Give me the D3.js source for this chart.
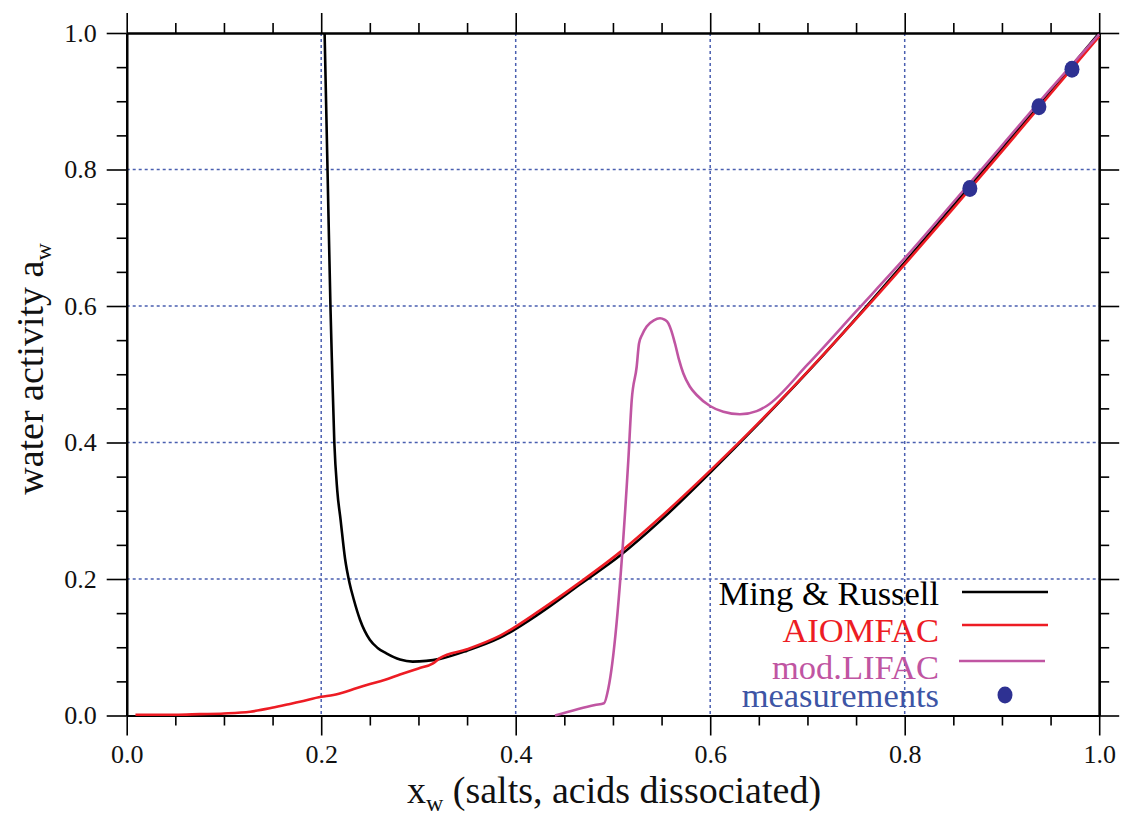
<!DOCTYPE html>
<html>
<head>
<meta charset="utf-8">
<script src="https://cdn.jsdelivr.net/npm/d3@7"></script>
<style>
  html, body { margin: 0; padding: 0; background: #fff; }
  svg { display: block; }
  text { font-family: "Liberation Serif", "Times New Roman", serif; }
</style>
</head>
<body>
<svg id="chart" width="1121" height="816"></svg>
<script>
// Water activity vs. water mole fraction (salts, acids dissociated)
const mingRussellX = [0.2035, 0.2065, 0.2095, 0.211, 0.2135, 0.2165, 0.220, 0.2245, 0.229, 0.2335, 0.240, 0.250, 0.258, 0.267, 0.281, 0.294, 0.308, 0.322, 0.350, 0.384, 0.425, 0.466, 0.507, 0.550, 0.600, 0.650, 0.700, 0.750, 0.800, 0.850, 0.900, 0.950, 1.000];
const mingRussellY = [1.000, 0.800, 0.600, 0.520, 0.400, 0.330, 0.286, 0.230, 0.195, 0.170, 0.140, 0.111, 0.099, 0.091, 0.082, 0.079, 0.080, 0.083, 0.095, 0.114, 0.150, 0.192, 0.234, 0.287, 0.356, 0.428, 0.503, 0.582, 0.664, 0.747, 0.831, 0.915, 1.000];

const aiomfacX = [0.009, 0.050, 0.0754, 0.100, 0.127, 0.147, 0.165, 0.178, 0.200, 0.2125, 0.230, 0.2468, 0.265, 0.281, 0.300, 0.315, 0.322, 0.350, 0.384, 0.425, 0.466, 0.507, 0.550, 0.600, 0.650, 0.700, 0.750, 0.800, 0.850, 0.900, 0.950, 1.000];
const aiomfacY = [0.001, 0.001, 0.002, 0.003, 0.0056, 0.0105, 0.016, 0.020, 0.0276, 0.030, 0.037, 0.0447, 0.052, 0.060, 0.069, 0.0765, 0.084, 0.097, 0.117, 0.154, 0.195, 0.239, 0.292, 0.3587, 0.429, 0.5035, 0.581, 0.661, 0.743, 0.8265, 0.911, 0.995];

const lifacX = [0.4404, 0.4815, 0.4908, 0.4953, 0.5158, 0.5193, 0.5244, 0.5268, 0.5300, 0.5347, 0.5420, 0.5484, 0.5530, 0.557, 0.5600, 0.5638, 0.5680, 0.5724, 0.5790, 0.5861, 0.5998, 0.6135, 0.6306, 0.6478, 0.658, 0.700, 0.750, 0.800, 0.850, 0.900, 0.950, 1.000];
const lifacY = [0.000, 0.0154, 0.018, 0.040, 0.374, 0.462, 0.511, 0.545, 0.558, 0.570, 0.579, 0.582, 0.580, 0.5747, 0.564, 0.545, 0.521, 0.501, 0.482, 0.4696, 0.4535, 0.445, 0.4413, 0.446, 0.4535, 0.514, 0.592, 0.670, 0.752, 0.835, 0.918, 0.998];

const measuredX = [0.867, 0.938, 0.972];
const measuredY = [0.772, 0.892, 0.947];

const majorTicks = [0.0, 0.2, 0.4, 0.6, 0.8, 1.0];
const minorTicks = [0.05, 0.1, 0.15, 0.25, 0.3, 0.35, 0.45, 0.5, 0.55, 0.65, 0.7, 0.75, 0.85, 0.9, 0.95];
const gridTicks = [0.2, 0.4, 0.6, 0.8];

const seriesNames = ["Ming & Russell", "AIOMFAC", "mod.LIFAC", "measurements"];
const seriesColors = ["#000000", "#ed1c24", "#c055a2", "#2e3192"];
const legendTextColors = ["#000000", "#ed1c24", "#c055a2", "#3d55a5"];

const svg = d3.select("#chart");
const plotLeft = 126.7, plotRight = 1099.2, plotTop = 33, plotBottom = 715.5;

const x = d3.scaleLinear().domain([0, 1]).range([plotLeft, plotRight]);
const y = d3.scaleLinear().domain([0, 1]).range([plotBottom, plotTop]);

// dotted grid
const grid = svg.append("g").attr("stroke", "#4a5fb0").attr("stroke-width", 1.5).attr("stroke-dasharray", "3,3");
grid.selectAll("line.gx").data(gridTicks).join("line").attr("class", "gx")
  .attr("x1", d => x(d)).attr("x2", d => x(d)).attr("y1", plotTop).attr("y2", plotBottom);
grid.selectAll("line.gy").data(gridTicks).join("line").attr("class", "gy")
  .attr("y1", d => y(d)).attr("y2", d => y(d)).attr("x1", plotLeft).attr("x2", plotRight);

// axes: major + minor ticks on all four sides, pointing outward
const fmt = d3.format(".1f");
function styleAxis(g) {
  g.selectAll("path").attr("stroke", "#000").attr("stroke-width", 2.2);
  g.selectAll("line").attr("stroke", "#000").attr("stroke-width", 1.6);
  g.selectAll("text").attr("font-size", 26).attr("fill", "#111");
}
svg.append("g").attr("transform", `translate(0,${plotBottom})`)
  .call(d3.axisBottom(x).tickValues(minorTicks).tickSize(10).tickSizeOuter(0).tickFormat(""))
  .call(styleAxis);
svg.append("g").attr("transform", `translate(0,${plotBottom})`)
  .call(d3.axisBottom(x).tickValues(majorTicks).tickSize(20).tickSizeOuter(0).tickPadding(9).tickFormat(fmt))
  .call(styleAxis);
svg.append("g").attr("transform", `translate(0,${plotTop})`)
  .call(d3.axisTop(x).tickValues(minorTicks).tickSize(10).tickSizeOuter(0).tickFormat(""))
  .call(styleAxis);
svg.append("g").attr("transform", `translate(0,${plotTop})`)
  .call(d3.axisTop(x).tickValues(majorTicks).tickSize(20).tickSizeOuter(0).tickFormat(""))
  .call(styleAxis);
svg.append("g").attr("transform", `translate(${plotLeft},0)`)
  .call(d3.axisLeft(y).tickValues(minorTicks).tickSize(10).tickSizeOuter(0).tickFormat(""))
  .call(styleAxis);
svg.append("g").attr("transform", `translate(${plotLeft},0)`)
  .call(d3.axisLeft(y).tickValues(majorTicks).tickSize(20).tickSizeOuter(0).tickPadding(10).tickFormat(fmt))
  .call(styleAxis);
svg.append("g").attr("transform", `translate(${plotRight},0)`)
  .call(d3.axisRight(y).tickValues(minorTicks).tickSize(10).tickSizeOuter(0).tickFormat(""))
  .call(styleAxis);
svg.append("g").attr("transform", `translate(${plotRight},0)`)
  .call(d3.axisRight(y).tickValues(majorTicks).tickSize(20).tickSizeOuter(0).tickFormat(""))
  .call(styleAxis);

// curves
const line = d3.line().x(d => x(d[0])).y(d => y(d[1])).curve(d3.curveMonotoneX);
const curves = [
  { xs: mingRussellX, ys: mingRussellY, color: seriesColors[0] },
  { xs: aiomfacX, ys: aiomfacY, color: seriesColors[1] },
  { xs: lifacX, ys: lifacY, color: seriesColors[2] }
];
svg.append("g").selectAll("path").data(curves).join("path")
  .attr("d", c => line(c.xs.map((v, i) => [v, c.ys[i]])))
  .attr("fill", "none").attr("stroke", c => c.color)
  .attr("stroke-width", 2.6).attr("stroke-linejoin", "round");

// measurements
svg.append("g").selectAll("ellipse").data(measuredX.map((v, i) => [v, measuredY[i]])).join("ellipse")
  .attr("cx", d => x(d[0])).attr("cy", d => y(d[1]))
  .attr("rx", 7.5).attr("ry", 8.5).attr("fill", seriesColors[3]);

// legend
const legendRows = [605, 641.5, 678.5, 707];
const legendMarkY = [592, 625, 661, 695];
const lg = svg.append("g");
seriesNames.forEach((name, i) => {
  lg.append("text").attr("x", 939).attr("y", legendRows[i])
    .attr("text-anchor", "end").attr("font-size", 34.5).attr("fill", legendTextColors[i]).text(name);
  if (i < 3) {
    const dx = i === 2 ? -3 : 0;
    lg.append("line").attr("x1", 962 + dx).attr("x2", 1048 + dx)
      .attr("y1", legendMarkY[i]).attr("y2", legendMarkY[i])
      .attr("stroke", seriesColors[i]).attr("stroke-width", 2.6);
  } else {
    lg.append("ellipse").attr("cx", 1005).attr("cy", legendMarkY[i])
      .attr("rx", 7.5).attr("ry", 8.5).attr("fill", seriesColors[i]);
  }
});

// axis titles
const yt = svg.append("text").attr("transform", "translate(43,369) rotate(-90)")
  .attr("text-anchor", "middle").attr("font-size", 38).attr("fill", "#111");
yt.append("tspan").text("water activity a");
yt.append("tspan").attr("font-size", 24).attr("dy", 8).text("w");

const xt = svg.append("text").attr("x", 614).attr("y", 803)
  .attr("text-anchor", "middle").attr("font-size", 38).attr("fill", "#111");
xt.append("tspan").text("x");
xt.append("tspan").attr("font-size", 24).attr("dy", 8).text("w");
xt.append("tspan").attr("dy", -8).text(" (salts, acids dissociated)");
</script>
</body>
</html>
